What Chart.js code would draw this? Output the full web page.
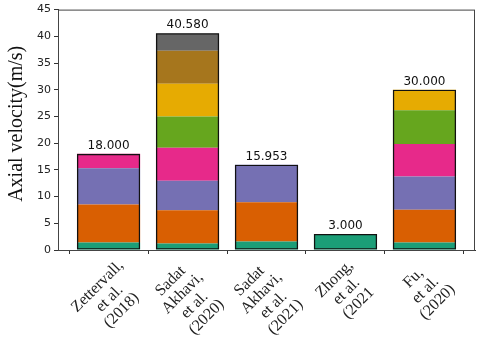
<!DOCTYPE html>
<html>
<head>
<meta charset="utf-8">
<script src="https://cdn.jsdelivr.net/npm/chart.js@4/dist/chart.umd.min.js"></script>
<style>
  html, body { margin: 0; padding: 0; background: #fff; }
  #wrap { width: 480px; height: 342px; }
</style>
</head>
<body>
<div id="wrap"><canvas id="stage"></canvas></div>
<script>
// studies (x categories), one array of lines per label
const studies = [
  ['Zettervall,', 'et al.', '(2018)'],
  ['Sadat', 'Akhavi,', 'et al.', '(2020)'],
  ['Sadat', 'Akhavi,', 'et al.', '(2021)'],
  ['Zhong,', 'et al.', '(2021'],
  ['Fu,', 'et al.', '(2020)']
];
const totals = [18.000, 40.580, 15.953, 3.000, 30.000];

// stacked pieces, bottom to top
const part1 = [1.4, 1.24, 1.6, 3.0, 1.4];
const part2 = [7.1, 6.2, 7.35, 0, 6.15];
const part3 = [6.8, 5.52, 7.003, 0, 6.2];
const part4 = [2.7, 6.19, 0, 0, 6.1];
const part5 = [0, 5.83, 0, 0, 6.3];
const part6 = [0, 6.12, 0, 0, 3.85];
const part7 = [0, 6.2, 0, 0, 0];
const part8 = [0, 3.28, 0, 0, 0];
const parts = [part1, part2, part3, part4, part5, part6, part7, part8];
const colors = ['#1b9e77', '#d95f02', '#7570b3', '#e7298a', '#66a61e', '#e6ab02', '#a6761d', '#666666'];

const yTicks = [0, 5, 10, 15, 20, 25, 30, 35, 40, 45];
const yTitle = 'Axial velocity(m/s)';

function toXY(arr) {
  return arr.map((v, i) => ({ x: i, y: v }));
}

const datasets = parts.map((p, k) => ({
  data: toXY(p),
  backgroundColor: colors[k],
  borderWidth: 0,
  stack: 'parts',
  order: 1,
  barPercentage: 0.8,
  categoryPercentage: 1
}));
// black outline around the whole bar, drawn on top
datasets.push({
  data: toXY(totals),
  backgroundColor: 'rgba(0,0,0,0)',
  borderColor: '#111',
  borderWidth: 1.3,
  borderSkipped: false,
  stack: 'outline',
  grouped: false,
  order: 0,
  barPercentage: 0.8,
  categoryPercentage: 1
});

const extras = {
  id: 'extras',
  afterDraw(chart) {
    const ctx = chart.ctx;
    const a = chart.chartArea;
    ctx.save();
    // frame
    ctx.strokeStyle = '#444';
    ctx.lineWidth = 1;
    ctx.strokeRect(a.left + 0.5, a.top + 0.5, a.right - a.left - 1, a.bottom - a.top);

    // totals above the bars
    const meta = chart.getDatasetMeta(datasets.length - 1);
    ctx.fillStyle = '#111';
    ctx.font = '12px "DejaVu Sans"';
    ctx.textAlign = 'center';
    ctx.textBaseline = 'bottom';
    meta.data.forEach((el, i) => {
      ctx.fillText(totals[i].toFixed(3), el.x, el.y - 2);
    });

    // y title
    ctx.save();
    ctx.font = '20px "Liberation Serif"';
    ctx.textBaseline = 'middle';
    ctx.fillStyle = '#111';
    ctx.translate(17, (a.top + a.bottom) / 2 - 6);
    ctx.rotate(-Math.PI / 2);
    ctx.fillText(yTitle, 0, 0);
    ctx.restore();

    // rotated x labels, centred like matplotlib
    const xs = chart.scales.x;
    const lh = 17;
    ctx.font = '16px "Liberation Serif"';
    ctx.textBaseline = 'middle';
    ctx.fillStyle = '#222';
    studies.forEach((lines, i) => {
      const w = Math.max(...lines.map(l => ctx.measureText(l).width));
      const h = lines.length * lh;
      const box = (w + h) * Math.SQRT1_2;
      const cx = xs.getPixelForValue(i) + 1;
      const cy = a.bottom + 7 + box / 2;
      ctx.save();
      ctx.translate(cx, cy);
      ctx.rotate(-Math.PI / 4);
      lines.forEach((l, j) => {
        ctx.fillText(l, 0, (j - (lines.length - 1) / 2) * lh);
      });
      ctx.restore();
    });
    ctx.restore();
  }
};

new Chart(document.getElementById('stage'), {
  type: 'bar',
  data: { datasets: datasets },
  options: {
    responsive: true,
    maintainAspectRatio: false,
    animation: false,
    layout: { padding: { left: 0, top: 8, right: 5, bottom: 0 } },
    plugins: { legend: { display: false }, tooltip: { enabled: false } },
    scales: {
      x: {
        type: 'linear',
        min: -0.64,
        max: 4.64,
        offset: false,
        stacked: true,
        afterBuildTicks(scale) { scale.ticks = studies.map((s, i) => ({ value: i })); },
        afterFit(scale) { scale.height = 92; },
        ticks: { display: false },
        grid: { drawOnChartArea: false, tickLength: 4, color: '#333' },
        border: { display: true, color: '#333' }
      },
      y: {
        min: 0,
        max: 45,
        stacked: true,
        afterBuildTicks(scale) { scale.ticks = yTicks.map(v => ({ value: v })); },
        afterFit(scale) { scale.width = 58; },
        ticks: { padding: 3, color: '#222', font: { family: 'DejaVu Sans', size: 11 } },
        grid: { drawOnChartArea: false, tickLength: 4, color: '#333' },
        border: { display: true, color: '#333' }
      }
    }
  },
  plugins: [extras]
});
</script>
</body>
</html>
